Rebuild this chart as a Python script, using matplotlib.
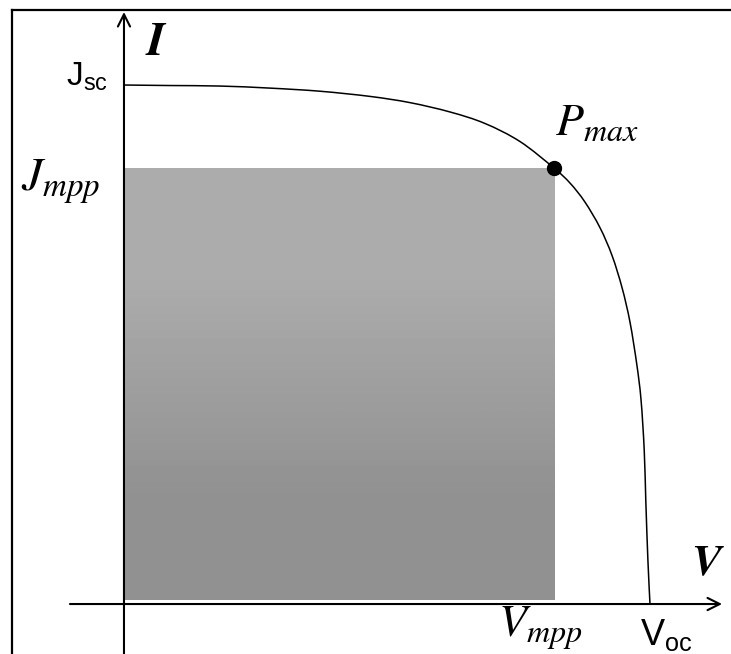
import numpy as np
import matplotlib
matplotlib.use("Agg")
import matplotlib.pyplot as plt
from matplotlib.lines import Line2D
from matplotlib.path import Path
from matplotlib.patches import PathPatch

plt.rcParams['mathtext.fontset'] = 'custom'
plt.rcParams['mathtext.rm'] = 'Liberation Sans'
plt.rcParams['mathtext.sf'] = 'Liberation Sans'

# I-V curve of the cell (normalised to Voc = 1, Jsc = 1)
voltage = [0.0, 0.088, 0.183, 0.278, 0.373, 0.468, 0.544, 0.620, 0.686,
           0.753, 0.8175, 0.848, 0.876, 0.905, 0.928, 0.947, 0.962, 0.975,
           0.983, 0.989, 0.992, 0.996, 1.0]
current = [1.0, 0.999, 0.998, 0.994, 0.988, 0.978, 0.966, 0.948, 0.926,
           0.891, 0.840, 0.811, 0.775, 0.725, 0.671, 0.609, 0.543, 0.461,
           0.393, 0.297, 0.200, 0.085, 0.0]

j_sc = 1.0
v_oc = 1.0
v_mpp = 0.8175
j_mpp = 0.840


def smooth_path(x, y):
    # cubic bezier segments through every point (catmull-rom tangents)
    pts = np.column_stack([x, y])
    verts = [pts[0]]
    codes = [Path.MOVETO]
    n = len(pts)
    for i in range(n - 1):
        p0 = pts[max(i - 1, 0)]
        p1 = pts[i]
        p2 = pts[i + 1]
        p3 = pts[min(i + 2, n - 1)]
        verts += [p1 + (p2 - p0) / 6, p2 - (p3 - p1) / 6, p2]
        codes += [Path.CURVE4] * 3
    return Path(verts, codes)


fig = plt.figure(figsize=(7.31, 6.54), dpi=100)
ax = fig.add_axes([0, 0, 1, 1])
ax.set_xlim(-0.2357, 1.154)
ax.set_ylim(-0.0963, 1.1638)
ax.axis('off')

# shaded power rectangle with a light vertical gradient
grad = np.array([[0.675], [0.57]])
ax.imshow(grad, cmap='gray', vmin=0, vmax=1, aspect='auto',
          interpolation='bilinear', extent=[0, v_mpp, 0.008, j_mpp], zorder=1)

# curve and maximum power point
ax.add_patch(PathPatch(smooth_path(voltage, current), fill=False,
                       edgecolor='black', lw=1.1, zorder=3))
ax.plot([v_mpp], [j_mpp], 'o', color='black', markersize=10, zorder=4)

# axes with arrows
arrow = dict(arrowstyle='->', color='black', lw=1.5, mutation_scale=22,
             shrinkA=0, shrinkB=0)
ax.annotate('', xy=(1.137, 0), xytext=(-0.1027, 0), arrowprops=arrow, zorder=5)
ax.annotate('', xy=(0, 1.1407), xytext=(0, -0.12), arrowprops=arrow, zorder=5)

# axis names
ax.text(0.040, 1.058, r'$\boldsymbol{I}$', fontsize=34, math_fontfamily='stix',
        ha='left', va='baseline')
ax.text(1.078, 0.056, r'$\boldsymbol{V}$', fontsize=32, math_fontfamily='stix',
        ha='left', va='baseline')

# point labels
ax.annotate(r'J$_{\mathsf{sc}}$', xy=(0, j_sc), xytext=(-11.5, 0),
            textcoords='offset points', ha='right', va='baseline',
            fontsize=24, family='Liberation Sans', math_fontfamily='custom')
ax.annotate(r'$J_{mpp}$', xy=(0, j_mpp), xytext=(-17, -16),
            textcoords='offset points', ha='right', va='baseline',
            fontsize=34, math_fontfamily='stix')
ax.annotate(r'$P_{max}$', xy=(v_mpp, j_mpp), xytext=(0.7, 23.8),
            textcoords='offset points', ha='left', va='baseline',
            fontsize=33, math_fontfamily='stix')
ax.annotate(r'$V_{mpp}$', xy=(v_mpp, 0), xytext=(-40, -23.8),
            textcoords='offset points', ha='left', va='baseline',
            fontsize=33, math_fontfamily='stix')
ax.annotate(r'V$_{\mathsf{oc}}$', xy=(v_oc, 0), xytext=(-7.2, -29.5),
            textcoords='offset points', ha='left', va='baseline',
            fontsize=26, family='Liberation Sans', math_fontfamily='custom')

# outer frame (left and top edges)
fig.add_artist(Line2D([12 / 731, 12 / 731], [0, 1 - 10 / 654], color='black',
                      lw=1.6, transform=fig.transFigure))
fig.add_artist(Line2D([12 / 731, 1], [1 - 10 / 654, 1 - 10 / 654], color='black',
                      lw=1.6, transform=fig.transFigure))

fig.savefig('out.png', dpi=100, facecolor='white')
